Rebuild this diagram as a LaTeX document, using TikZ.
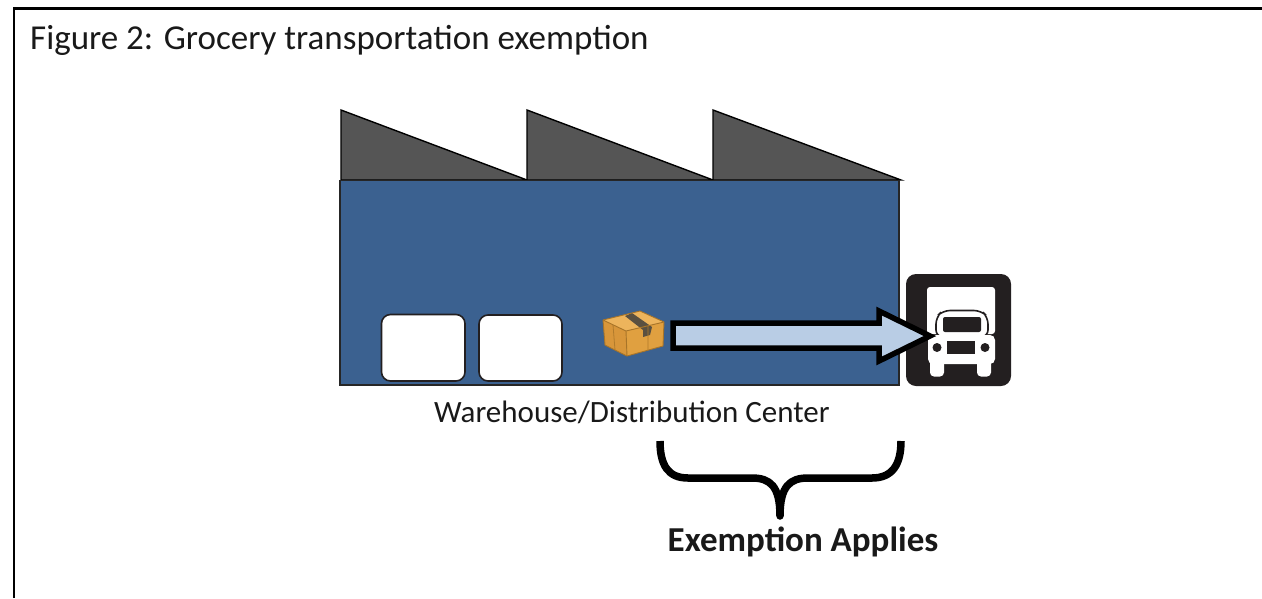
\documentclass[tikz,border=0pt]{standalone}
\usepackage{fontspec}
\setmainfont{Carlito}
\definecolor{wall}{HTML}{3B6190}
\definecolor{roof}{HTML}{555555}
\definecolor{arrowfill}{HTML}{B9CDE5}
\definecolor{inkblack}{HTML}{231F20}
\definecolor{boxA}{HTML}{D8963A}
\definecolor{boxB}{HTML}{E0A040}
\definecolor{boxC}{HTML}{EDB45C}
\definecolor{boxD}{HTML}{A87428}
\definecolor{tapec}{HTML}{5A5040}
\tikzset{
  rooftri/.style={fill=roof,draw=black,line width=1.4pt,line join=miter},
  door/.style={fill=white,draw=inkblack,line width=1.6pt,rounded corners=9pt},
  whitepart/.style={fill=white,draw=none},
  blackpart/.style={fill=inkblack,draw=none},
  label/.style={inner sep=0pt,text=black!90!white,anchor=base},
}
\begin{document}
\begin{tikzpicture}[x=1pt,y=-1pt]
\useasboundingbox (0,0) rectangle (1262,598);
% frame
\draw[line width=2.5pt,black] (14,598) -- (14,8.5) -- (1262,8.5);
\node[label,anchor=base west,font=\fontsize{35}{40}\selectfont] (title) at (30,49) {Figure 2: Grocery transportation exemption};
% building
\draw[rooftri] (341,110) -- (527,180) -- (341,180) -- cycle;
\draw[rooftri] (527,110) -- (713,180) -- (527,180) -- cycle;
\draw[rooftri] (713,110) -- (901,180) -- (713,180) -- cycle;
\draw[fill=wall,draw=black!85!white,line width=1.2pt] (340,180.5) rectangle (899,385);
\draw[door] (381.5,314.5) rectangle (465,381);
\draw[door] (479,315) rectangle (562,381);
% package
\fill[boxA] (603,320) -- (626,331) -- (627,356) -- (605,345) -- cycle;
\fill[boxB] (626,331) -- (664,322) -- (663,346) -- (627,356) -- cycle;
\fill[boxC] (603,320) -- (640,311) -- (664,322) -- (626,331) -- cycle;
\fill[tapec] (625,316) -- (632,313) -- (652,327) -- (650,335) -- (643,337) -- (643,330) -- cycle;
\draw[boxD,line width=.9pt,line join=round] (603,320) -- (640,311) -- (664,322) -- (663,346) -- (627,356) -- (605,345) -- cycle (603,320) -- (626,331) -- (664,322) (626,331) -- (627,356);
\draw[boxD!80!boxA,line width=.8pt] (613,325) -- (615,350) (648,326) -- (648,350);
% truck
\fill[blackpart,rounded corners=10pt] (906,274) rectangle (1011,386);
\fill[whitepart,rounded corners=3pt] (927,287) -- (995,287) -- (995,334) -- (927,334) -- cycle;
\draw[inkblack,line width=1.6pt,fill=white,rounded corners=7pt] (936,337) -- (936,317) -- (943,310.5) -- (981,310.5) -- (988,317) -- (988,337) -- cycle;
\fill[blackpart,rounded corners=2pt] (943,317) rectangle (981,332);
\fill[whitepart,rounded corners=5pt] (928,335) -- (995,335) -- (995,364) -- (928,364) -- cycle;
\fill[whitepart,rounded corners=4pt] (930,358) rectangle (944,376.5);
\fill[whitepart,rounded corners=4pt] (977,358) rectangle (991,376.5);
\fill[blackpart] (937,347.5) circle (4.5pt);
\fill[blackpart] (985,347.5) circle (4.5pt);
\fill[blackpart] (947,341) rectangle (975,354);
% arrow
\draw[fill=arrowfill,draw=black,line width=5.5pt,line join=miter,miter limit=10] (673,323) -- (879,323) -- (879,311) -- (930,336) -- (879,361) -- (879,348) -- (673,348) -- cycle;
% caption
\node[label,font=\fontsize{31}{36}\selectfont] (caption) at (632,422) {Warehouse/Distribution Center};
% brace
\draw[black,line width=7.5pt] (660,441) .. controls (660,465) and (668,478) .. (688,478) -- (752,478) .. controls (770,478) and (780,486) .. (780,516) .. controls (780,486) and (790,478) .. (808,478) -- (872,478) .. controls (892,478) and (901,465) .. (901,441);
\fill[black] (780,516) circle (3.75pt);
\node[label,font=\fontsize{35}{40}\selectfont\bfseries] (exempt) at (803,551) {Exemption Applies};
\end{tikzpicture}
\end{document}
